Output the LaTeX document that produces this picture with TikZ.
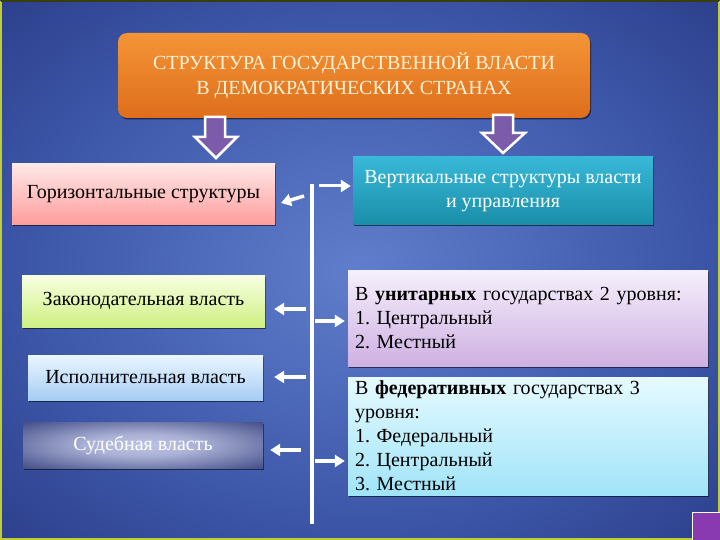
\documentclass[tikz,border=0pt]{standalone}
\usepackage{fontspec}
\setmainfont{Liberation Serif}
\usetikzlibrary{arrows.meta,shadows,calc}
\frenchspacing
\definecolor{bgc}{RGB}{96,126,204}
\definecolor{bgm}{RGB}{62,88,170}
\definecolor{bgd}{RGB}{26,38,108}
\definecolor{orT}{RGB}{244,148,54}
\definecolor{orB}{RGB}{222,110,28}
\definecolor{ttl}{RGB}{255,242,214}
\definecolor{pkT}{RGB}{255,232,232}
\definecolor{pkB}{RGB}{255,156,156}
\definecolor{tlT}{RGB}{56,184,216}
\definecolor{tlB}{RGB}{26,142,168}
\definecolor{gnT}{RGB}{248,255,226}
\definecolor{gnB}{RGB}{206,240,130}
\definecolor{lvT}{RGB}{246,240,252}
\definecolor{lvB}{RGB}{206,176,226}
\definecolor{lbT}{RGB}{234,246,255}
\definecolor{lbB}{RGB}{166,204,244}
\definecolor{cyT}{RGB}{230,250,255}
\definecolor{cyB}{RGB}{160,228,248}
\definecolor{sdL}{RGB}{190,196,228}
\definecolor{sdD}{RGB}{24,36,104}
\definecolor{barr}{RGB}{124,92,170}
\definecolor{purp}{RGB}{138,58,176}
\definecolor{framec}{RGB}{190,206,50}
\pgfdeclareradialshading{bgshade}{\pgfpoint{0bp}{0bp}}{color(0bp)=(bgc); color(22bp)=(bgm); color(50bp)=(bgd); color(70bp)=(bgd)}
\pgfdeclareradialshading{sudshade}{\pgfpoint{0bp}{0bp}}{color(0bp)=(sdL); color(12bp)=(sdL!88!sdD); color(36bp)=(sdD!75!sdL); color(50bp)=(sdD)}
\tikzset{
  box/.style={rectangle, inner sep=0pt, font=\fontsize{20}{24}\selectfont,
    drop shadow={shadow xshift=1pt, shadow yshift=-1.5pt, opacity=.55, fill=black}},
  lbox/.style={box, text width=346pt, align=left, inner xsep=7pt, minimum width=360pt},
  warr/.style={draw=white, line width=4pt, -{Triangle[width=12pt,length=10pt]}},
  spine/.style={draw=white, line width=4.5pt},
  blockarrow/.style={fill=barr, draw=white, line width=2.5pt, line join=miter}
}
\begin{document}
\begin{tikzpicture}[x=1pt,y=-1pt]
\useasboundingbox (0,0) rectangle (720,540);
\shade[shading=bgshade] (0,0) rectangle (720,540);
\draw[framec, line width=2pt] (1,540) -- (1,1);
\draw[framec, line width=2pt] (1,539) -- (719,539) -- (719,1);
\draw[black!70!framec, line width=1.5pt] (1,1) -- (719,1);

% title
\node[box, rounded corners=9pt, top color=orT, bottom color=orB,
      minimum width=472pt, minimum height=85pt, align=center, text=ttl,
      font=\fontsize{20}{25}\selectfont]
  (title) at (354,75.5) {\raisebox{-3pt}{СТРУКТУРА ГОСУДАРСТВЕННОЙ ВЛАСТИ}\\\raisebox{-3pt}{В ДЕМОКРАТИЧЕСКИХ СТРАНАХ}};

% block arrows
\draw[blockarrow] (205,117) -- (225,117) -- (225,137) -- (237,137) -- (216,158) -- (195,137) -- (205,137) -- cycle;
\draw[blockarrow] (493,115) -- (513,115) -- (513,133) -- (525,133) -- (503,153) -- (482,133) -- (493,133) -- cycle;

% left column
\node[box, top color=pkT, bottom color=pkB, minimum width=263pt, minimum height=61pt]
  (hor) at (143.5,194.5) {\raisebox{-3pt}{Горизонтальные структуры}};
\node[box, top color=gnT, bottom color=gnB, minimum width=243pt, minimum height=52pt]
  (zak) at (143.5,301) {Законодательная власть};
\node[box, top color=lbT, bottom color=lbB, minimum width=235pt, minimum height=45pt]
  (isp) at (145.5,377.5) {Исполнительная власть};
\node[box, shading=sudshade, minimum width=240pt, minimum height=46pt, text=white]
  (sud) at (143,445) {Судебная власть};

% right column
\node[box, top color=tlT, bottom color=tlB, minimum width=300pt, minimum height=68pt,
      align=center, text=white]
  (ver) at (503,191) {\raisebox{-5pt}{Вертикальные структуры власти}\\\raisebox{-5pt}{и управления}};
\node[lbox, top color=lvT, bottom color=lvB, minimum height=96pt]
  (uni) at (528,318) {В \textbf{унитарных} государствах 2 уровня:\\1. Центральный\\2. Местный};
\node[lbox, top color=cyT, bottom color=cyB, minimum height=118pt]
  (fed) at (528,436) {В \textbf{федеративных} государствах 3\\уровня:\\1. Федеральный\\2. Центральный\\3. Местный};

% spine and connectors
\coordinate (st) at (312,184);
\coordinate (sb) at (312,524);
\draw[spine] (st) -- (sb);
\coordinate (p1) at (319,186);
\draw[warr, line width=3pt, shorten >=2pt] (p1) -- (p1 -| ver.west);
\coordinate (p2) at (304,196);
\coordinate (q2) at (281,203);
\draw[warr, line width=3.5pt] (p2) -- (q2);
\coordinate (p3) at (306,309);
\draw[warr, shorten >=9pt] (p3) -- (p3 -| zak.east);
\coordinate (p4) at (315,321);
\draw[warr, shorten >=3pt] (p4) -- (p4 -| uni.west);
\coordinate (p5) at (306,377);
\draw[warr, shorten >=11pt] (p5) -- (p5 -| isp.east);
\coordinate (p6) at (301,450);
\draw[warr, shorten >=7pt] (p6) -- (p6 -| sud.east);
\coordinate (p7) at (315,461);
\draw[warr, shorten >=3pt] (p7) -- (p7 -| fed.west);

% corner square
\fill[purp] (692,512) rectangle (720,540);
\draw[white, line width=1pt] (692,540) -- (692,512) -- (720,512);
\end{tikzpicture}
\end{document}
